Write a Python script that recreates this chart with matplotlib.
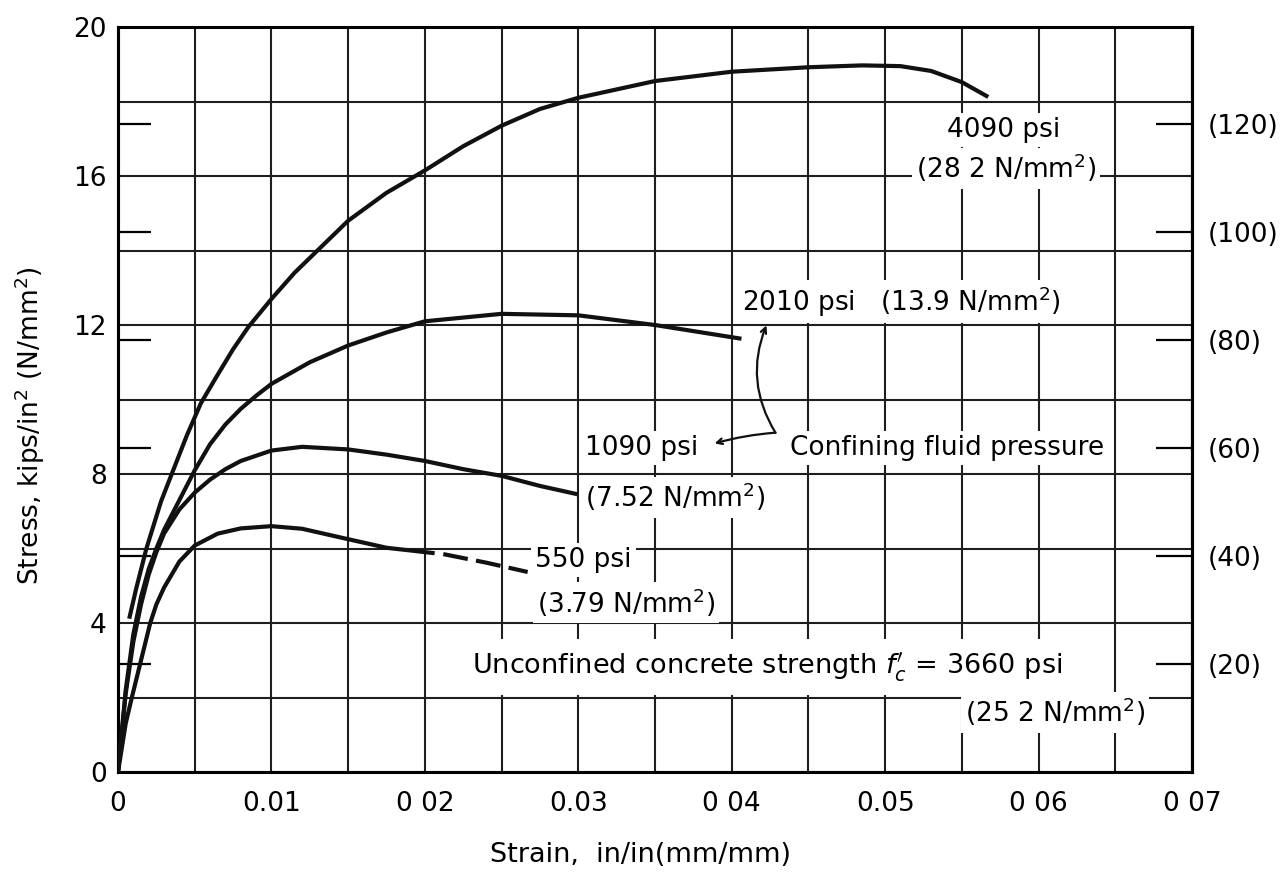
import matplotlib
matplotlib.use('Agg')
import matplotlib.pyplot as plt
from matplotlib.ticker import MultipleLocator

plt.rcParams['font.family'] = ['DejaVu Sans']
plt.rcParams['mathtext.fontset'] = 'dejavusans'

KSI_TO_MPA = 6.895

# curves: strain (in/in) vs stress (ksi)
strain_4090 = [0.00076, 0.0012, 0.00185, 0.0028, 0.0035, 0.0045, 0.0054, 0.0064, 0.0075, 0.0085, 0.01,
               0.0115, 0.013, 0.015, 0.0175, 0.02, 0.0225, 0.025, 0.0275, 0.03, 0.035, 0.04, 0.045,
               0.0485, 0.051, 0.053, 0.055, 0.0566]
stress_4090 = [4.17, 4.95, 6.0, 7.26, 8.0, 9.05, 9.9, 10.6, 11.35, 11.95, 12.7,
               13.4, 14.0, 14.8, 15.55, 16.15, 16.8, 17.35, 17.8, 18.1, 18.55, 18.8, 18.92,
               18.97, 18.95, 18.82, 18.52, 18.15]

strain_2010 = [0, 0.0005, 0.001, 0.0015, 0.002, 0.0025, 0.003, 0.004, 0.005, 0.006, 0.007, 0.008,
               0.009, 0.01, 0.0125, 0.015, 0.0175, 0.02, 0.025, 0.03, 0.035, 0.0405]
stress_2010 = [0, 2.2, 3.7, 4.7, 5.45, 6.0, 6.5, 7.3, 8.1, 8.8, 9.33, 9.75,
               10.1, 10.42, 11.0, 11.45, 11.8, 12.1, 12.3, 12.26, 12.0, 11.64]

strain_1090 = [0, 0.0005, 0.001, 0.0015, 0.002, 0.0025, 0.003, 0.004, 0.005, 0.006, 0.007, 0.008,
               0.01, 0.012, 0.015, 0.0175, 0.02, 0.0225, 0.025, 0.0275, 0.0298]
stress_1090 = [0, 2.1, 3.5, 4.5, 5.3, 5.9, 6.4, 7.05, 7.5, 7.85, 8.13, 8.35,
               8.63, 8.73, 8.66, 8.52, 8.35, 8.13, 7.95, 7.68, 7.47]

strain_550 = [0, 0.0005, 0.0009, 0.0015, 0.0021, 0.0025, 0.003, 0.004, 0.005, 0.0065, 0.008, 0.01,
              0.012, 0.015, 0.0175, 0.0205]
stress_550 = [0, 1.3, 2.0, 3.0, 4.0, 4.5, 4.95, 5.65, 6.08, 6.4, 6.54, 6.6,
              6.53, 6.25, 6.02, 5.88]
strain_550_dash = [0.0212, 0.024, 0.0267]
stress_550_dash = [5.85, 5.62, 5.37]

x_ticks = [0, 0.01, 0.02, 0.03, 0.04, 0.05, 0.06, 0.07]
x_tick_labels = ["0", "0.01", "0 02", "0.03", "0 04", "0.05", "0 06", "0 07"]
y_ticks = [0, 4, 8, 12, 16, 20]
mpa_ticks = [20, 40, 60, 80, 100, 120]

fig = plt.figure(figsize=(12.87, 8.83), dpi=100)
ax = fig.add_axes([0.0917, 0.1257, 0.8345, 0.8437])

ink = '#111111'
ax.plot(strain_4090, stress_4090, color=ink, lw=3, zorder=4)
ax.plot(strain_2010, stress_2010, color=ink, lw=3, zorder=4)
ax.plot(strain_1090, stress_1090, color=ink, lw=3, zorder=4)
ax.plot(strain_550, stress_550, color=ink, lw=3, zorder=4)
ax.plot(strain_550_dash, stress_550_dash, color=ink, lw=3, dashes=(6, 2), zorder=4)

ax.set_xlim(0, 0.07)
ax.set_ylim(0, 20)
ax.set_xticks(x_ticks, labels=x_tick_labels)
ax.set_yticks(y_ticks)
ax.xaxis.set_minor_locator(MultipleLocator(0.005))
ax.yaxis.set_minor_locator(MultipleLocator(2))
ax.tick_params(which='both', length=0)
ax.tick_params(axis='x', pad=14, labelsize=19)
ax.tick_params(axis='y', pad=8, labelsize=19)
ax.grid(which='both', color='#1e1e1e', lw=1.5)
for s in ax.spines.values():
    s.set_linewidth(2.2)

# N/mm^2 ticks on both sides
to_mpa = (lambda k: k * KSI_TO_MPA, lambda m: m / KSI_TO_MPA)
sec_r = ax.secondary_yaxis('right', functions=to_mpa)
sec_r.set_yticks(mpa_ticks, labels=["(%d)" % v for v in mpa_ticks])
sec_r.tick_params(direction='in', length=26, width=1.6, pad=11, labelsize=19)
sec_r.spines['right'].set_linewidth(2.2)
sec_l = ax.secondary_yaxis('left', functions=to_mpa)
sec_l.set_yticks(mpa_ticks, labels=[])
sec_l.tick_params(direction='in', length=24, width=1.6)
sec_l.spines['left'].set_linewidth(2.2)

box = dict(facecolor='white', edgecolor='none', pad=3)
fs = 19
ax.text(0.05775, 17.23, "4090 psi", fontsize=fs, ha='center', va='center', bbox=box)
ax.text(0.05788, 16.21, "(28 2 N/mm$^2$)", fontsize=fs, ha='center', va='center', bbox=box)
ax.text(0.04067, 12.62, "2010 psi   (13.9 N/mm$^2$)", fontsize=fs, ha='left', va='center', bbox=box)
ax.text(0.03044, 8.70, "1090 psi", fontsize=fs, ha='left', va='center', bbox=box)
ax.text(0.03044, 7.38, "(7.52 N/mm$^2$)", fontsize=fs, ha='left', va='center', bbox=box)
ax.text(0.0438, 8.70, "Confining fluid pressure", fontsize=fs, ha='left', va='center', bbox=box)
ax.text(0.02718, 5.69, "550 psi", fontsize=fs, ha='left', va='center', bbox=box)
ax.text(0.02731, 4.54, "(3.79 N/mm$^2$)", fontsize=fs, ha='left', va='center', bbox=box)
ax.text(0.02307, 2.82, "Unconfined concrete strength $f_c'$ = 3660 psi", fontsize=19.5,
        ha='left', va='center', bbox=dict(facecolor='white', edgecolor='none', pad=8))
ax.text(0.0552, 1.61, "(25 2 N/mm$^2$)", fontsize=fs, ha='left', va='center', bbox=box)

arrow = dict(arrowstyle='->', color=ink, lw=1.6, shrinkA=0, shrinkB=0)
ax.annotate("", xy=(0.04226, 11.99), xytext=(0.04285, 9.11),
            arrowprops=dict(arrow, connectionstyle='arc3,rad=-0.25'), zorder=4)
ax.annotate("", xy=(0.03888, 8.82), xytext=(0.04285, 9.11),
            arrowprops=dict(arrow, connectionstyle='arc3,rad=0.05'), zorder=4)

fig.text(30 / 1287, 1 - 426 / 883, "Stress, kips/in$^2$ (N/mm$^2$)", fontsize=19,
         rotation=90, ha='center', va='center')
fig.text(640 / 1287, 1 - 855 / 883, "Strain,  in/in(mm/mm)", fontsize=19.5,
         ha='center', va='center')

plt.savefig("out.png")
plt.close()
